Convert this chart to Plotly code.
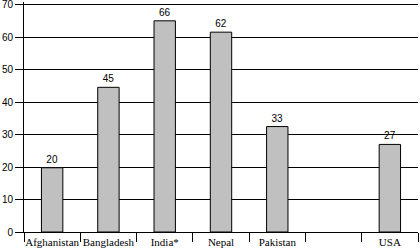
import plotly.graph_objects as go

categories = ["Afghanistan", "Bangladesh", "India*", "Nepal", "Pakistan", " ", "USA"]
values = [19.8, 44.6, 65.1, 61.6, 32.5, None, 27.0]
labels = ["20", "45", "66", "62", "33", "", "27"]
y_ticks = [0, 10, 20, 30, 40, 50, 60, 70]

fig = go.Figure(go.Bar(
    x=categories, y=values, text=labels, textposition="outside",
    textfont=dict(family="Liberation Sans", size=10, color="black"),
    marker=dict(color="#C0C0C0", line=dict(color="black", width=1)),
    width=0.38, cliponaxis=False,
))
fig.update_layout(
    width=420, height=251, margin=dict(l=24, r=2, t=2, b=19, autoexpand=False),
    paper_bgcolor="white", plot_bgcolor="white", showlegend=False,
    font=dict(family="Liberation Serif", size=11, color="black"),
)
fig.update_xaxes(
    type="category", categoryorder="array", categoryarray=categories,
    showline=True, linecolor="black", linewidth=1, automargin=False,
    ticks="outside", tickson="boundaries", ticklen=9, tickcolor="black",
    showgrid=False, tickangle=0, tickfont=dict(family="Liberation Serif", size=11),
)
fig.update_yaxes(
    range=[0, 70.9], tickvals=y_ticks, showline=True, linecolor="black", linewidth=1,
    showgrid=True, gridcolor="black", gridwidth=1, zeroline=False, automargin=False,
    ticks="outside", ticklen=8, tickcolor="black", ticklabeloverflow="allow",
    tickfont=dict(family="Liberation Sans", size=10),
)
fig.write_html("out.html")
